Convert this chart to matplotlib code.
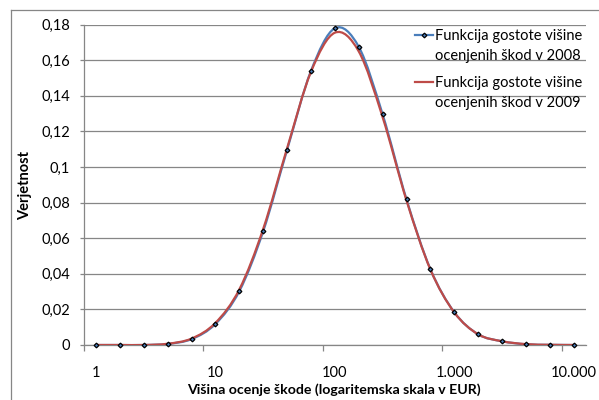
import matplotlib
matplotlib.use("Agg")
import matplotlib.pyplot as plt
from matplotlib.path import Path
from matplotlib.patches import PathPatch
from matplotlib.lines import Line2D
import numpy as np

plt.rcParams['font.family'] = ['Lato', 'DejaVu Sans']

# visina ocenjene skode (EUR), 5 tock na dekado
visina = [1, 1.585, 2.512, 3.981, 6.31, 10, 15.85, 25.12, 39.81, 63.1, 100,
          158.5, 251.2, 398.1, 631, 1000, 1585, 2512, 3981, 6310, 10000]

gostota_2008 = [0, 0, 0, 0.0006, 0.0033, 0.0118, 0.0302, 0.0639, 0.1096, 0.154, 0.178,
                0.1676, 0.1296, 0.0818, 0.0426, 0.0184, 0.006, 0.0021, 0.0004, 0.0001, 0]
gostota_2009 = [0, 0, 0, 0.0007, 0.0036, 0.0124, 0.0312, 0.0652, 0.1105, 0.1535, 0.1755,
                0.165, 0.128, 0.0812, 0.0424, 0.0183, 0.006, 0.0021, 0.0005, 0.0001, 0]

x_oznake = ["1", "10", "100", "1.000", "10.000"]
y_oznake = ["0", "0,02", "0,04", "0,06", "0,08", "0,1", "0,12", "0,14", "0,16", "0,18"]
y_vrednosti = [0, 0.02, 0.04, 0.06, 0.08, 0.1, 0.12, 0.14, 0.16, 0.18]

oznaka_2008 = "Funkcija gostote višine\nocenjenih škod v 2008"
oznaka_2009 = "Funkcija gostote višine\nocenjenih škod v 2009"

MODRA = '#4A7EBB'
RDECA = '#BE4B48'
SIVA = '#868686'
W, H = 599, 400


def gladka_pot(x, y):
    # Catmull-Rom -> Bezier (kot "smoothed line" v Excelu), v log-x prostoru
    lx = np.log10(x)
    y = np.asarray(y, dtype=float)
    n = len(lx)
    verts = [(x[0], y[0])]
    codes = [Path.MOVETO]
    for i in range(n - 1):
        i0 = max(i - 1, 0)
        i3 = min(i + 2, n - 1)
        c1 = (lx[i] + (lx[i + 1] - lx[i0]) / 6, y[i] + (y[i + 1] - y[i0]) / 6)
        c2 = (lx[i + 1] - (lx[i3] - lx[i]) / 6, y[i + 1] - (y[i3] - y[i]) / 6)
        verts += [(10 ** c1[0], c1[1]), (10 ** c2[0], c2[1]), (x[i + 1], y[i + 1])]
        codes += [Path.CURVE4] * 3
    return Path(verts, codes)


def px(x, y):
    # piksli od zgoraj levo -> koordinate slike
    return x / W, 1 - y / H


fig = plt.figure(figsize=(W / 100, H / 100), dpi=100)
ax = fig.add_axes([84 / W, 1 - 345 / H, (585.7 - 84) / W, (345 - 24.7) / H])

ax.set_xscale('log')
ax.set_xlim(10 ** -0.1, 10 ** 4.1)
ax.set_ylim(0, 0.18)

ax.add_patch(PathPatch(gladka_pot(visina, gostota_2008), fill=False, ec=MODRA, lw=1.6,
                       capstyle='round', zorder=3))
ax.add_patch(PathPatch(gladka_pot(visina, gostota_2009), fill=False, ec=RDECA, lw=1.6,
                       capstyle='round', zorder=4))
ax.plot(visina, gostota_2008, ls='none', marker='D', ms=2.4, mfc=MODRA, mec='black',
        mew=0.9, zorder=5, clip_on=False)

# mreza in osi
ax.set_yticks(y_vrednosti, labels=y_oznake)
ax.yaxis.grid(True, color=SIVA, lw=0.9)
ax.set_axisbelow(True)
ax.set_xticks([10 ** (k - 0.1) for k in range(5)], labels=[''] * 5)
ax.set_xticks([10 ** k for k in range(5)], labels=x_oznake, minor=True)
ax.tick_params(axis='x', which='major', direction='out', length=4, color=SIVA, width=0.9)
ax.tick_params(axis='x', which='minor', length=0, pad=15, labelsize=10.5, labelcolor='black')
ax.tick_params(axis='y', direction='out', length=3, color=SIVA, width=0.9, pad=7,
               labelsize=10.5)
for s in ['top', 'right']:
    ax.spines[s].set_visible(False)
for s in ['left', 'bottom']:
    ax.spines[s].set_color(SIVA)
    ax.spines[s].set_linewidth(0.9)

fig.text(*px(25, 185), 'Verjetnost', rotation=90, ha='center', va='center',
         fontsize=10.5, fontweight='bold')
fig.text(*px(334, 390), 'Višina ocenje škode (logaritemska skala v EUR)',
         ha='center', va='center', fontsize=10.2, fontweight='bold')

# okvir grafikona
fig.add_artist(Line2D([11 / W, 11 / W], [0, 1 - 10 / H], color=SIVA, lw=0.9))
fig.add_artist(Line2D([11 / W, 1], [1 - 10 / H, 1 - 10 / H], color=SIVA, lw=0.9))

# legenda: crta ob prvi vrstici, besedilo v dveh vrsticah
for oznaka, barva, marker, yc in [(oznaka_2008, MODRA, 'D', 35), (oznaka_2009, RDECA, None, 82)]:
    (x0, y0), (x1, _) = px(415, yc), px(433, yc)
    fig.add_artist(Line2D([x0, x1], [y0, y0], color=barva, lw=1.6))
    if marker:
        fig.add_artist(Line2D([(x0 + x1) / 2], [y0], ls='none', marker=marker, ms=2.4,
                              mfc=barva, mec='black', mew=0.9))
    fig.text(*px(435, yc + 11), oznaka, ha='left', va='center', fontsize=10.5,
             linespacing=1.55)

fig.savefig('out.png', dpi=100)
